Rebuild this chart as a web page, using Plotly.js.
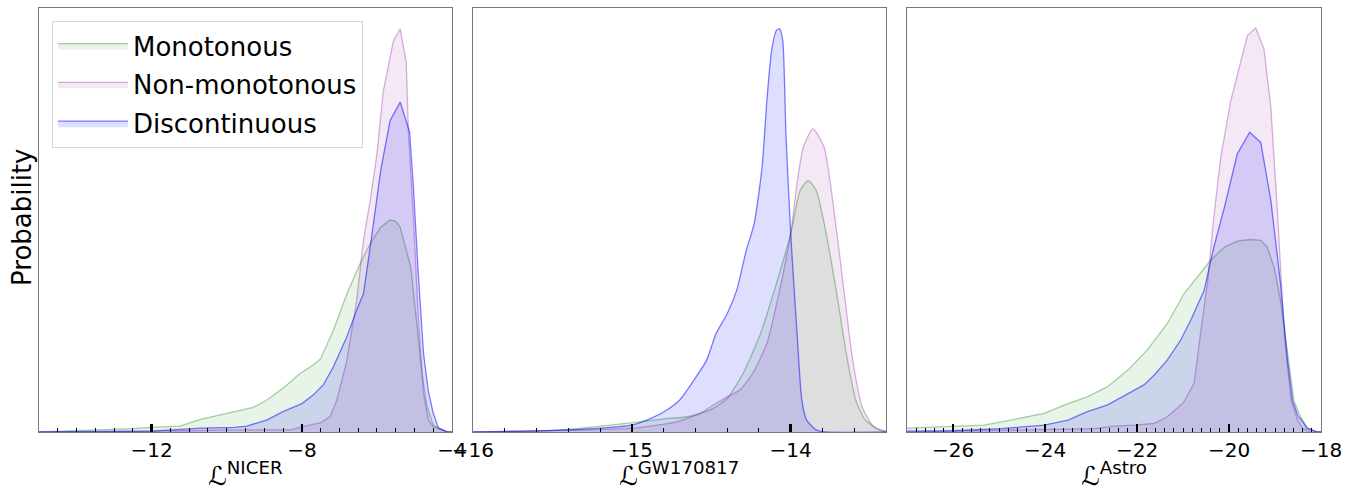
<!DOCTYPE html>
<html>
<head>
<meta charset="utf-8">
<script src="https://cdn.plot.ly/plotly-3.0.1.min.js"></script>
<style>html,body{margin:0;padding:0;background:#fff;}#chart{width:1360px;height:490px;}</style>
</head>
<body>
<div id="chart"></div>
<script>
// ---- Series names ----
const seriesNames = ["Monotonous", "Non-monotonous", "Discontinuous"];

// ---- Panel 1: L^NICER ----
const nicerMonoX = [-15, -14.26, -13.4, -12.5, -12, -11.25, -10.7, -10, -9.3, -8.94, -8.5, -8.05, -7.7, -7.5, -7.16, -6.8, -6.45, -6.18, -5.9, -5.65, -5.5, -5.38, -5.1, -4.94, -4.8, -4.66, -4.5, -4.14, -4];
const nicerMonoY = [0.0, 0.002, 0.006, 0.008, 0.011, 0.014, 0.03, 0.044, 0.058, 0.075, 0.103, 0.138, 0.158, 0.173, 0.24, 0.326, 0.397, 0.444, 0.483, 0.5, 0.497, 0.483, 0.389, 0.256, 0.138, 0.059, 0.016, 0.0, 0.0];
const nicerNonX = [-15, -13, -11, -10, -9, -8.3, -8, -7.5, -7.25, -7.07, -6.8, -6.54, -6.36, -6.18, -6.0, -5.83, -5.56, -5.38, -5.22, -5.16, -5.03, -4.9, -4.76, -4.63, -4.5, -4.14, -4];
const nicerNonY = [0.0, 0.001, 0.003, 0.005, 0.006, 0.005, 0.012, 0.022, 0.036, 0.075, 0.169, 0.311, 0.452, 0.546, 0.656, 0.805, 0.923, 0.951, 0.872, 0.703, 0.507, 0.271, 0.091, 0.028, 0.013, 0.0, 0.0];
const nicerDiscX = [-15, -13, -12, -10.7, -9.8, -9.47, -8.94, -8.5, -8.0, -7.7, -7.43, -7.16, -6.8, -6.54, -6.36, -6.18, -5.9, -5.65, -5.38, -5.13, -5.03, -4.9, -4.76, -4.63, -4.5, -4.36, -4.1, -4];
const nicerDiscY = [0.0, 0.001, 0.002, 0.009, 0.011, 0.014, 0.028, 0.048, 0.067, 0.087, 0.111, 0.154, 0.225, 0.288, 0.326, 0.436, 0.617, 0.735, 0.778, 0.707, 0.578, 0.374, 0.185, 0.095, 0.044, 0.009, 0.0, 0.0];

// ---- Panel 2: L^GW170817 ----
const gwMonoX = [-16, -15.45, -15, -14.82, -14.65, -14.57, -14.49, -14.4, -14.3, -14.19, -14.09, -14.0, -13.94, -13.89, -13.84, -13.78, -13.71, -13.65, -13.59, -13.53, -13.46, -13.4];
const gwMonoY = [0.0, 0.005, 0.022, 0.03, 0.036, 0.044, 0.055, 0.079, 0.138, 0.232, 0.35, 0.468, 0.57, 0.593, 0.57, 0.475, 0.326, 0.185, 0.075, 0.028, 0.009, 0.002];
const gwNonX = [-16, -15, -14.72, -14.57, -14.49, -14.4, -14.32, -14.24, -14.15, -14.07, -14.0, -13.96, -13.92, -13.86, -13.79, -13.73, -13.67, -13.61, -13.55, -13.48, -13.42, -13.4];
const gwNonY = [0.0, 0.009, 0.024, 0.044, 0.063, 0.083, 0.099, 0.138, 0.209, 0.334, 0.468, 0.586, 0.672, 0.715, 0.672, 0.53, 0.35, 0.17, 0.059, 0.013, 0.002, 0.001];
const gwDiscX = [-16, -15.66, -15.24, -15, -14.88, -14.78, -14.7, -14.61, -14.53, -14.47, -14.4, -14.34, -14.28, -14.23, -14.18, -14.15, -14.12, -14.09, -14.07, -14.05, -14.03, -14.0, -13.96, -13.93, -13.9, -13.84, -13.78, -13.4];
const gwDiscY = [0.0, 0.002, 0.008, 0.016, 0.032, 0.052, 0.075, 0.122, 0.169, 0.232, 0.279, 0.334, 0.428, 0.491, 0.625, 0.782, 0.9, 0.947, 0.951, 0.923, 0.703, 0.468, 0.232, 0.075, 0.028, 0.005, 0.0, 0.0];

// ---- Panel 3: L^Astro ----
const astroMonoX = [-27, -26, -25.33, -24.75, -24.38, -24.02, -23.5, -23.08, -22.64, -22.2, -21.78, -21.34, -20.98, -20.62, -20.4, -20.1, -19.82, -19.53, -19.31, -19.17, -19.02, -18.88, -18.73, -18.59, -18.48, -18.3, -18.08, -18];
const astroMonoY = [0.009, 0.013, 0.016, 0.028, 0.036, 0.044, 0.067, 0.083, 0.107, 0.146, 0.193, 0.256, 0.326, 0.374, 0.405, 0.436, 0.45, 0.454, 0.452, 0.436, 0.389, 0.311, 0.193, 0.075, 0.044, 0.009, 0.0, 0.0];
const astroNonX = [-27, -24.24, -22.93, -22.5, -22.06, -21.63, -21.34, -20.98, -20.76, -20.62, -20.47, -20.33, -20.18, -19.96, -19.75, -19.6, -19.42, -19.24, -19.09, -18.94, -18.8, -18.65, -18.51, -18.4, -18.22, -18];
const astroNonY = [0.0, 0.005, 0.008, 0.014, 0.016, 0.02, 0.036, 0.071, 0.115, 0.232, 0.35, 0.507, 0.648, 0.782, 0.872, 0.935, 0.953, 0.903, 0.766, 0.507, 0.232, 0.075, 0.028, 0.009, 0.0, 0.0];
const astroDiscX = [-27, -26, -24.96, -24.02, -23.5, -23.08, -22.64, -22.2, -21.85, -21.63, -21.34, -21.05, -20.83, -20.54, -20.33, -20.1, -19.82, -19.55, -19.31, -19.09, -18.88, -18.73, -18.62, -18.51, -18.3, -18.08, -18];
const astroDiscY = [0.002, 0.003, 0.008, 0.016, 0.028, 0.048, 0.064, 0.091, 0.111, 0.134, 0.17, 0.217, 0.264, 0.334, 0.436, 0.53, 0.656, 0.707, 0.683, 0.546, 0.35, 0.17, 0.075, 0.04, 0.009, 0.0, 0.0];

// ---- Axis titles / ticks ----
const xTitles = ["ℒ<sup>NICER</sup>", "ℒ<sup>GW170817</sup>", "ℒ<sup>Astro</sup>"];
const yTitle = "Probability";

const lineColors = ["rgba(0,128,0,0.35)", "rgba(140,20,160,0.33)", "rgba(0,0,255,0.5)"];
const fillColors = ["rgba(0,128,0,0.09)", "rgba(128,0,128,0.09)", "rgba(0,0,255,0.13)"];

const panels = [
  {xs: [nicerMonoX, nicerNonX, nicerDiscX], ys: [nicerMonoY, nicerNonY, nicerDiscY], shape: "linear"},
  {xs: [gwMonoX, gwNonX, gwDiscX], ys: [gwMonoY, gwNonY, gwDiscY], shape: "spline"},
  {xs: [astroMonoX, astroNonX, astroDiscX], ys: [astroMonoY, astroNonY, astroDiscY], shape: "linear"}
];

const traces = [];
panels.forEach((p, pi) => {
  for (let s = 0; s < 3; s++) {
    traces.push({
      type: "scatter", mode: "lines",
      x: p.xs[s], y: p.ys[s],
      name: seriesNames[s],
      legendgroup: seriesNames[s],
      showlegend: pi === 0,
      fill: "tozeroy",
      fillcolor: fillColors[s],
      line: {color: lineColors[s], width: 1.3, shape: p.shape, smoothing: 0.6},
      xaxis: pi === 0 ? "x" : "x" + (pi + 1),
      yaxis: pi === 0 ? "y" : "y" + (pi + 1),
      hoverinfo: "skip"
    });
  }
});

const tickFont = {family: "DejaVu Sans", size: 20, color: "#000"};
const titleFont = {family: "DejaVu Sans", size: 26, color: "#000"};
const frameColor = "#777";

function xAxis(domain, range, dtick, tick0, minorDtick) {
  return {
    domain: domain, range: range, dtick: dtick, tick0: tick0,
    ticks: "inside", ticklen: 8, tickwidth: 2.5, tickcolor: "#000",
    minor: {dtick: minorDtick, tick0: tick0, ticks: "inside", ticklen: 4, tickwidth: 1, tickcolor: "#000", showgrid: false},
    showline: true, mirror: true, linecolor: frameColor, linewidth: 1,
    showgrid: false, zeroline: false,
    tickfont: tickFont,
    automargin: false, fixedrange: true
  };
}
function yAxis(anchor) {
  return {
    anchor: anchor, range: [0, 1], domain: [0, 1],
    showticklabels: false, ticks: "",
    showline: true, mirror: true, linecolor: frameColor, linewidth: 1,
    showgrid: false, zeroline: false,
    automargin: false, fixedrange: true
  };
}

// Axis titles placed relative to each axis domain
const annotations = xTitles.map((t, i) => ({
  text: t, showarrow: false, font: titleFont,
  xref: (i === 0 ? "x" : "x" + (i + 1)) + " domain", x: 0.5, xanchor: "center",
  yref: (i === 0 ? "y" : "y" + (i + 1)) + " domain", y: -0.1, yanchor: "middle"
}));
annotations.push({
  text: yTitle, showarrow: false, font: titleFont, textangle: -90,
  xref: "x domain", x: -0.041, xanchor: "center",
  yref: "y domain", y: 0.505, yanchor: "middle"
});

const layout = {
  width: 1360, height: 490,
  margin: {l: 39, r: 39, t: 8, b: 58},
  paper_bgcolor: "#fff", plot_bgcolor: "#fff",
  font: {family: "DejaVu Sans", color: "#000"},
  showlegend: true,
  legend: {
    x: 0.0101, y: 0.969, xanchor: "left", yanchor: "top",
    bgcolor: "rgba(255,255,255,0.8)", bordercolor: "#d6d6d6", borderwidth: 1,
    font: {family: "DejaVu Sans", size: 26, color: "#000"},
    itemwidth: 70, tracegroupgap: 2
  },
  xaxis: xAxis([0, 0.3222], [-15, -4], 4, -12, 0.5),
  xaxis2: xAxis([0.3385, 0.6607], [-16, -13.4], 1, -16, 0.2),
  xaxis3: xAxis([0.6771, 1], [-27, -18], 2, -26, 0.2),
  yaxis: yAxis("x"),
  yaxis2: yAxis("x2"),
  yaxis3: yAxis("x3"),
  annotations: annotations
};
layout.xaxis.anchor = "y";
layout.xaxis2.anchor = "y2";
layout.xaxis3.anchor = "y3";

Plotly.newPlot("chart", traces, layout, {staticPlot: true, displayModeBar: false});
</script>
</body>
</html>
